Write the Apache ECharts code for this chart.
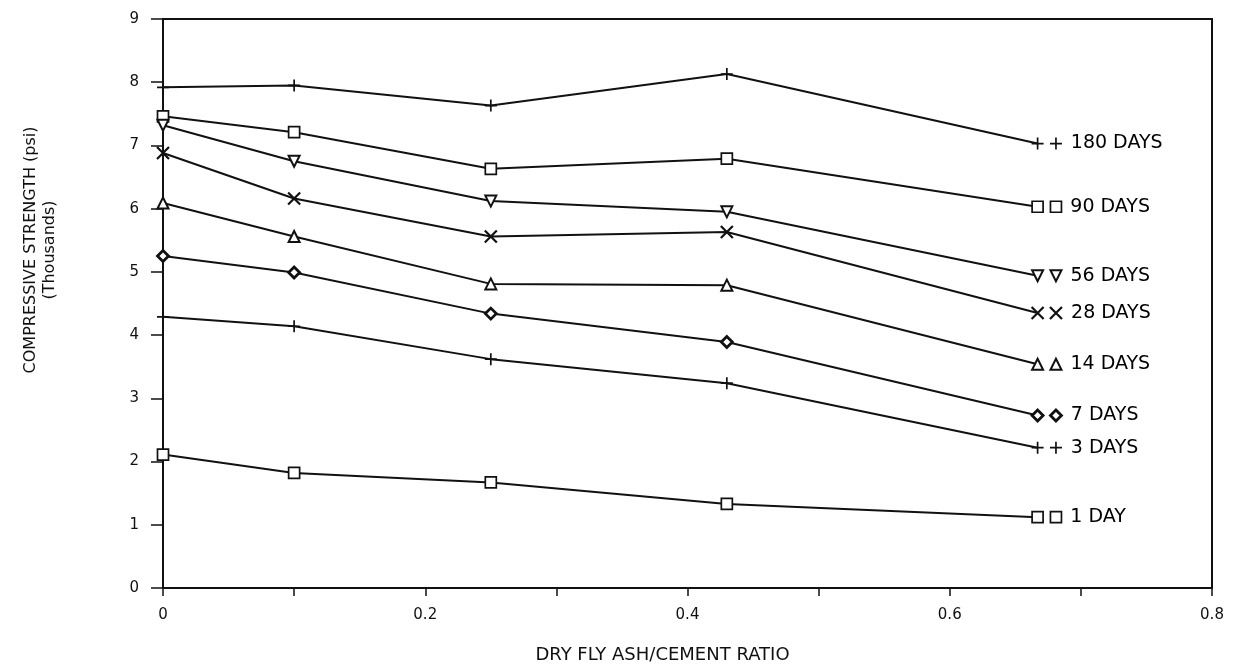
<!DOCTYPE html>
<html>
<head>
<meta charset="utf-8">
<script src="https://cdn.jsdelivr.net/npm/echarts@6/dist/echarts.min.js"></script>
<style>html,body{margin:0;padding:0;background:#fff}#c{width:1235px;height:670px}</style>
</head>
<body>
<div id="c"></div>
<script>
// Data
const ratios = [0, 0.1, 0.25, 0.43, 0.667];
const days180 = [7.92, 7.95, 7.63, 8.13, 7.03];
const days90  = [7.46, 7.21, 6.63, 6.79, 6.03];
const days56  = [7.32, 6.75, 6.12, 5.95, 4.94];
const days28  = [6.88, 6.16, 5.56, 5.63, 4.35];
const days14  = [6.09, 5.56, 4.81, 4.79, 3.54];
const days7   = [5.25, 4.99, 4.34, 3.89, 2.73];
const days3   = [4.29, 4.14, 3.62, 3.24, 2.22];
const days1   = [2.11, 1.82, 1.67, 1.33, 1.12];
const seriesNames = ['180 DAYS', '90 DAYS', '56 DAYS', '28 DAYS', '14 DAYS', '7 DAYS', '3 DAYS', '1 DAY'];
const labelRatio = 0.681; // position of the repeated key marker
const yTicks = ['0','1','2','3','4','5','6','7','8','9'];
const yTitle = ['COMPRESSIVE STRENGTH (psi)', '(Thousands)'];
const xTitle = 'DRY FLY ASH/CEMENT RATIO';

const INK = '#111';
const TXT = '#111';
const PLUS = 'path://M0,5 L10,5 M5,0 L5,10';
const CROSS = 'path://M0,0 L10,10 M10,0 L0,10';
const styles = [
  {symbol: PLUS, size: 12, rotate: 0, fill: 'transparent', bw: 1.7},
  {symbol: 'rect', size: 11, rotate: 0, fill: '#fff', bw: 1.7},
  {symbol: 'triangle', size: 11, rotate: 180, fill: '#fff', bw: 2},
  {symbol: CROSS, size: 12, rotate: 0, fill: 'transparent', bw: 2.2},
  {symbol: 'triangle', size: 11, rotate: 0, fill: '#fff', bw: 2},
  {symbol: 'diamond', size: 11, rotate: 0, fill: '#fff', bw: 2.8},
  {symbol: PLUS, size: 12, rotate: 0, fill: 'transparent', bw: 1.7},
  {symbol: 'rect', size: 11, rotate: 0, fill: '#fff', bw: 1.7}
];
const allData = [days180, days90, days56, days28, days14, days7, days3, days1];

const FONT = 'DejaVu Sans';
const series = [];
allData.forEach((vals, i) => {
  const st = styles[i];
  series.push({
    type: 'line', name: seriesNames[i],
    data: ratios.map((r, k) => [r, vals[k]]),
    symbol: st.symbol, symbolSize: st.size, symbolRotate: st.rotate,
    showAllSymbol: true,
    lineStyle: {color: INK, width: 2},
    itemStyle: {color: st.fill, borderColor: INK, borderWidth: st.bw, opacity: 1},
    emphasis: {disabled: true},
    z: 3
  });
  series.push({
    type: 'scatter', name: seriesNames[i] + ' key',
    data: [[labelRatio, vals[vals.length - 1]]],
    symbol: st.symbol, symbolSize: st.size, symbolRotate: st.rotate,
    itemStyle: {color: st.fill, borderColor: INK, borderWidth: st.bw, opacity: 1},
    label: {show: true, position: 'right', distance: 8, formatter: seriesNames[i],
            fontFamily: FONT, fontSize: 19, color: '#000', opacity: 1},
    emphasis: {disabled: true},
    z: 4
  });
});

const chart = echarts.init(document.getElementById('c'), null, {renderer: 'canvas'});
chart.setOption({
  animation: false,
  backgroundColor: '#fff',
  grid: {left: 163, right: 23, top: 19, bottom: 82, show: true, borderColor: INK, borderWidth: 2, backgroundColor: 'transparent'},
  xAxis: {
    type: 'value', min: 0, max: 0.8, interval: 0.1,
    name: xTitle, nameLocation: 'middle', nameGap: 58,
    nameTextStyle: {fontFamily: FONT, fontSize: 18, color: TXT, padding: [0, 50, 0, 0]},
    axisLine: {show: true, onZero: false, lineStyle: {color: INK, width: 2}},
    axisTick: {show: true, length: 8, lineStyle: {color: INK, width: 1.5}},
    axisLabel: {
      margin: 20, fontFamily: FONT, fontSize: 15, color: TXT,
      formatter: v => { const k = Math.round(v * 10); return k % 2 === 0 ? (k === 0 ? '0' : String(k / 10)) : ''; }
    },
    splitLine: {show: false}
  },
  yAxis: {
    type: 'value', min: 0, max: 9, interval: 1,
    axisLine: {show: true, lineStyle: {color: INK, width: 2}},
    axisTick: {show: true, length: 12, lineStyle: {color: INK, width: 1.5}},
    axisLabel: {margin: 24, fontFamily: FONT, fontSize: 15, color: TXT,
      formatter: v => yTicks[Math.round(v)]},
    splitLine: {show: false}
  },
  graphic: [
    {type: 'text', x: 31, y: 250, rotation: Math.PI / 2,
     style: {text: yTitle[0], fontFamily: FONT, fontSize: 16, fill: TXT, align: 'center', verticalAlign: 'middle'}},
    {type: 'text', x: 50, y: 250, rotation: Math.PI / 2,
     style: {text: yTitle[1], fontFamily: FONT, fontSize: 16, fill: TXT, align: 'center', verticalAlign: 'middle'}}
  ],
  series: series
});
</script>
</body>
</html>
